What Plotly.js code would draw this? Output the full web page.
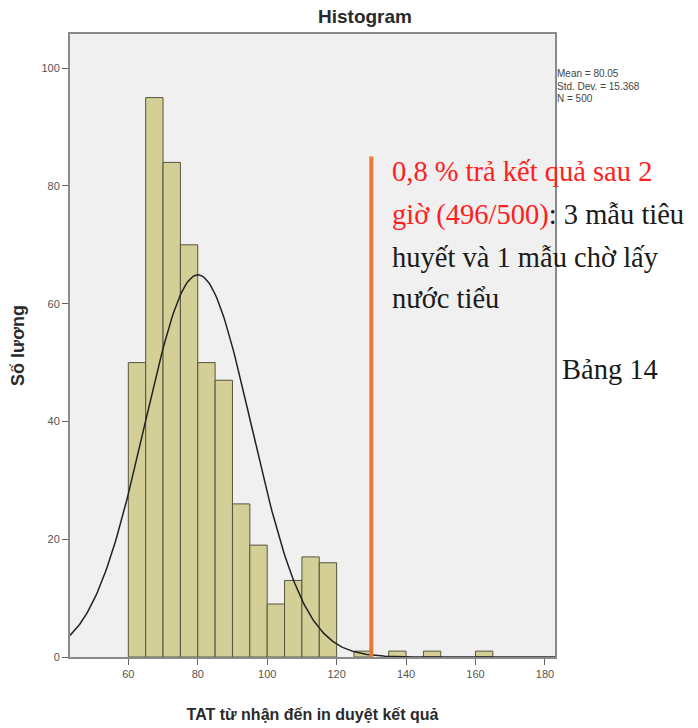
<!DOCTYPE html>
<html>
<head>
<meta charset="utf-8">
<script src="https://cdn.plot.ly/plotly-3.0.1.min.js"></script>
<style>
html,body{margin:0;padding:0;background:#fff;}
#chart{width:698px;height:728px;}
</style>
</head>
<body>
<div id="chart"></div>
<script>
// ---- data ----
const binStarts = [60, 65, 70, 75, 80, 85, 90, 95, 100, 105, 110, 115, 125, 135, 145, 160];
const counts    = [50, 95, 84, 70, 50, 47, 26, 19, 9, 13, 17, 16, 1, 1, 1, 1];
const binWidth = 5;
const statMean = 80.05;
const statSD = 15.368;
const statN = 500;
const xTicks = [60, 80, 100, 120, 140, 160, 180];
const yTicks = [0, 20, 40, 60, 80, 100];
const cutoffX = 130;     // orange marker line
const cutoffTop = 85;
const statLines = ["Mean = 80.05", "Std. Dev. = 15.368", "N = 500"];
const noteLines = [
  '<span style="color:#ff2020">0,8 % trả kết quả sau 2</span>',
  '<span style="color:#ff2020">giờ (496/500)</span>: 3 mẫu tiêu',
  'huyết và 1 mẫu chờ lấy',
  'nước tiểu'
];
const tableLabel = 'Bảng 14';

// ---- fitted normal curve from displayed statistics ----
const xr = [43.2, 182.9];
const curveX = [], curveY = [];
for (let i = 0; i <= 300; i++) {
  const x = xr[0] + (xr[1] - xr[0]) * i / 300;
  const z = (x - statMean) / statSD;
  curveX.push(x);
  curveY.push(statN * binWidth / (statSD * Math.sqrt(2 * Math.PI)) * Math.exp(-0.5 * z * z));
}

const traces = [
  {
    type: 'bar', x: binStarts, y: counts, width: binWidth, offset: 0,
    marker: {color: '#d4cf96', line: {color: '#55553f', width: 1}},
    hoverinfo: 'none', showlegend: false
  },
  {
    type: 'scatter', mode: 'lines', x: curveX, y: curveY,
    line: {color: '#222', width: 1.5}, hoverinfo: 'none', showlegend: false
  }
];

const annotations = [];
const noteY = [171, 215, 257, 298];
const serif = 'Liberation Serif, Times New Roman, serif';
noteLines.forEach((t, i) => {
  annotations.push({
    xref: 'paper', yref: 'paper', x: (390 - 70) / 485, y: (657 - noteY[i]) / 623,
    xanchor: 'left', yanchor: 'middle', showarrow: false, text: t,
    font: {family: serif, size: 28.5, color: '#1a1a1a'}
  });
});
annotations.push({
  xref: 'paper', yref: 'paper', x: (560 - 70) / 485, y: (657 - 369) / 623,
  xanchor: 'left', yanchor: 'middle', showarrow: false, text: tableLabel,
  font: {family: serif, size: 28.5, color: '#1a1a1a'}
});
statLines.forEach((t, i) => {
  annotations.push({
    xref: 'paper', yref: 'paper', x: (556 - 70) / 485, y: (657 - (74 + i * 12)) / 623,
    xanchor: 'left', yanchor: 'middle', showarrow: false, text: t,
    borderpad: 0,
    font: {family: 'Liberation Sans, Arial, sans-serif', size: 10, color: '#444'}
  });
});

const sans = 'Liberation Sans, Arial, sans-serif';
const layout = {
  width: 698, height: 728,
  margin: {l: 70, r: 143, t: 34, b: 71},
  paper_bgcolor: '#ffffff', plot_bgcolor: '#f0f0f0',
  title: {
    text: '<b>Histogram</b>', xref: 'container', yref: 'container',
    x: 365 / 698, y: 1 - 16 / 728, xanchor: 'center', yanchor: 'middle',
    font: {family: sans, size: 19, color: '#2a2a2a'}
  },
  xaxis: {
    range: xr, tickvals: xTicks, ticks: 'outside', ticklen: 6, tickcolor: '#666',
    showgrid: false, zeroline: false, showline: true, linecolor: '#8a8a8a', linewidth: 2, mirror: true,
    tickfont: {family: sans, size: 11, color: '#555'},
    title: {text: '<b>TAT từ nhận đến in duyệt kết quả</b>', standoff: 30,
      font: {family: sans, size: 16, color: '#2a2a2a'}}
  },
  yaxis: {
    range: [0, 105.8], tickvals: yTicks, ticks: 'outside', ticklen: 6, tickcolor: '#666',
    showgrid: false, zeroline: false, showline: true, linecolor: '#8a8a8a', linewidth: 2, mirror: true,
    tickfont: {family: sans, size: 11, color: '#555'},
    title: {text: '<b>Số lương</b>', standoff: 12,
      font: {family: sans, size: 18, color: '#2a2a2a'}}
  },
  bargap: 0,
  shapes: [{
    type: 'line', xref: 'x', yref: 'y', x0: cutoffX, x1: cutoffX, y0: 0, y1: cutoffTop,
    line: {color: '#e8783a', width: 4}
  }],
  annotations: annotations
};

Plotly.newPlot('chart', traces, layout, {displayModeBar: false, staticPlot: true});
</script>
</body>
</html>
